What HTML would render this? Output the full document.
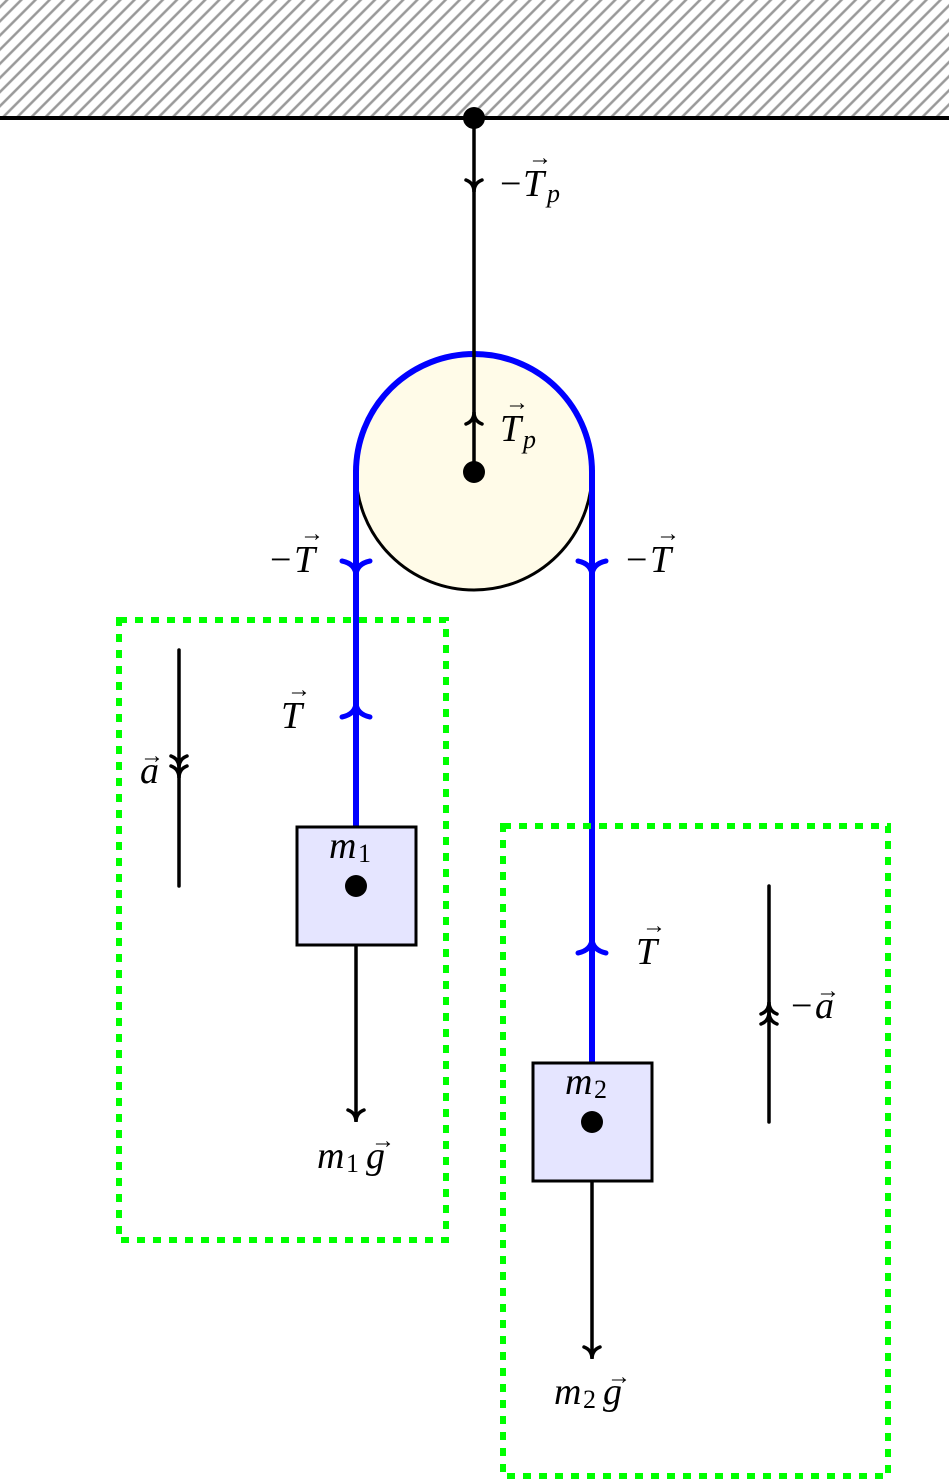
<!DOCTYPE html>
<html><head><style>html,body{margin:0;padding:0;background:#fff}svg{display:block}</style></head>
<body>
<svg width="949" height="1481" viewBox="0 0 949 1481" xmlns="http://www.w3.org/2000/svg" font-family="Liberation Serif, serif">
<defs>
<pattern id="h" patternUnits="userSpaceOnUse" width="10" height="10" patternTransform="rotate(-45)">
<rect width="10" height="10" fill="#fff"/><line x1="0" y1="5" x2="10" y2="5" stroke="#999" stroke-width="2.5"/>
</pattern>
</defs>
<rect x="0" y="0" width="949" height="118" fill="url(#h)"/>
<line x1="0" y1="118" x2="949" y2="118" stroke="#000" stroke-width="4"/>
<circle cx="474" cy="472" r="118" fill="#fffbe8" stroke="#000" stroke-width="3"/>
<path d="M356 472 A118 118 0 0 1 592 472" fill="none" stroke="#00f" stroke-width="6"/>
<line x1="356" y1="470" x2="356" y2="827" stroke="#00f" stroke-width="6"/>
<line x1="592" y1="470" x2="592" y2="1064" stroke="#00f" stroke-width="6"/>
<rect x="119" y="620" width="327" height="620" fill="none" stroke="#0f0" stroke-width="6" stroke-dasharray="8 8"/>
<rect x="503" y="826" width="385" height="650" fill="none" stroke="#0f0" stroke-width="6" stroke-dasharray="8 8"/>
<g stroke="#000" stroke-width="3.5" fill="none" stroke-linecap="round">
<line x1="474" y1="118" x2="474" y2="472"/>
<line x1="179" y1="650" x2="179" y2="886"/>
<line x1="769" y1="886" x2="769" y2="1122"/>
<line x1="356" y1="886" x2="356" y2="1120"/>
<line x1="592" y1="1122" x2="592" y2="1357"/>
<path d="M466 180 Q474 183 474 192 Q474 183 482 180"/>
<path d="M466 424 Q474 421 474 412 Q474 421 482 424"/>
<path d="M171 756 Q179 759 179 768 Q179 759 187 756"/>
<path d="M171 766 Q179 769 179 778 Q179 769 187 766"/>
<path d="M761 1014 Q769 1011 769 1002 Q769 1011 777 1014"/>
<path d="M761 1024 Q769 1021 769 1012 Q769 1021 777 1024"/>
<path d="M348 1110 Q356 1113 356 1122 Q356 1113 364 1110"/>
<path d="M584 1347 Q592 1350 592 1359 Q592 1350 600 1347"/>
</g>
<g stroke="#00f" stroke-width="5" fill="none" stroke-linecap="round">
<path d="M342 561 Q356 564 356 576 Q356 564 370 561"/>
<path d="M578 561 Q592 564 592 576 Q592 564 606 561"/>
<path d="M342 717 Q356 714 356 702 Q356 714 370 717"/>
<path d="M578 953 Q592 950 592 938 Q592 950 606 953"/>
</g>
<rect x="297" y="827" width="119" height="118" fill="#e5e5ff" stroke="#000" stroke-width="3"/>
<rect x="533" y="1063" width="119" height="118" fill="#e5e5ff" stroke="#000" stroke-width="3"/>
<g fill="#000">
<circle cx="474" cy="118" r="11"/><circle cx="474" cy="472" r="11"/>
<circle cx="356" cy="886" r="11"/><circle cx="592" cy="1122" r="11"/>
</g>
<g font-size="38" font-style="italic" fill="#000">
<text x="500" y="196" font-style="normal">−</text><text x="523" y="196">T</text><text x="547" y="202" font-size="26">p</text>
<text x="500" y="441">T</text><text x="523" y="448" font-size="26">p</text>
<text x="270" y="572" font-style="normal">−</text><text x="294" y="572">T</text>
<text x="626" y="572" font-style="normal">−</text><text x="650" y="572">T</text>
<text x="281" y="728">T</text>
<text x="636" y="964">T</text>
<text x="140" y="783">a</text>
<text x="791" y="1018" font-style="normal">−</text><text x="815" y="1018">a</text>
<text x="329" y="858">m</text><text x="358" y="862" font-size="26" font-style="normal">1</text>
<text x="565" y="1094">m</text><text x="594" y="1098" font-size="26" font-style="normal">2</text>
<text x="317" y="1168">m</text><text x="346" y="1172" font-size="26" font-style="normal">1</text><text x="366" y="1168">g</text>
<text x="554" y="1404">m</text><text x="583" y="1408" font-size="26" font-style="normal">2</text><text x="603" y="1404">g</text>
</g>
<g font-size="24" fill="#000" text-anchor="middle">
<text x="540" y="165">→</text>
<text x="517" y="410">→</text>
<text x="312" y="541">→</text>
<text x="668" y="541">→</text>
<text x="299" y="697">→</text>
<text x="654" y="933">→</text>
<text x="152" y="763">→</text>
<text x="828" y="998">→</text>
<text x="383" y="1148">→</text>
<text x="619" y="1384">→</text>
</g>
</svg>
</body></html>
